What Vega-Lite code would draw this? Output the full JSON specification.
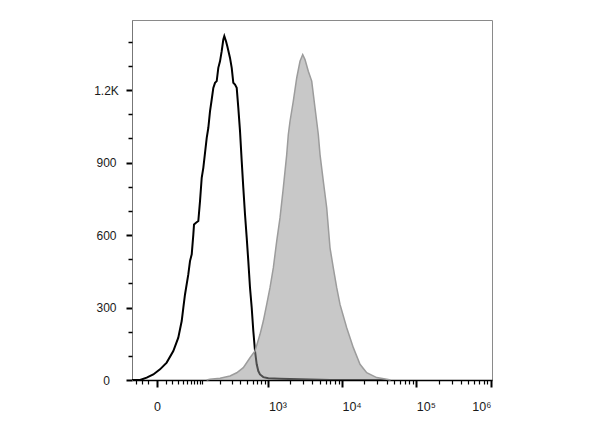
{
  "$schema": "https://vega.github.io/schema/vega-lite/v6.json",
  "width": 360,
  "height": 360,
  "autosize": {"type": "none"},
  "padding": {"left": 132, "top": 20, "right": 108, "bottom": 47},
  "background": "white",
  "config": {
    "view": {"stroke": "#8a8a8a", "strokeWidth": 1},
    "axis": {"grid": false, "labelFont": "Liberation Sans", "labelColor": "#1a1a1a"}
  },
  "datasets": {
    "black": [
      {"x": -38.5, "count": 0}, {"x": -35.7, "count": 0}, {"x": -22.8, "count": 0}, {"x": -12.4, "count": 9.6},
      {"x": -4.0, "count": 23}, {"x": 3.2, "count": 44}, {"x": 11.5, "count": 72}, {"x": 21.6, "count": 120},
      {"x": 30.7, "count": 175}, {"x": 37.8, "count": 244}, {"x": 41.4, "count": 299}, {"x": 45.4, "count": 354},
      {"x": 53.8, "count": 437}, {"x": 58.5, "count": 492}, {"x": 63.5, "count": 520}, {"x": 68.4, "count": 602},
      {"x": 70.6, "count": 644}, {"x": 77.2, "count": 651}, {"x": 85.3, "count": 658}, {"x": 91.7, "count": 740},
      {"x": 98.4, "count": 837}, {"x": 105.1, "count": 878}, {"x": 120.4, "count": 1002}, {"x": 128.1, "count": 1043},
      {"x": 136.8, "count": 1112}, {"x": 146.0, "count": 1161}, {"x": 155.1, "count": 1209}, {"x": 165.2, "count": 1230},
      {"x": 175.9, "count": 1237}, {"x": 186.5, "count": 1292}, {"x": 198.3, "count": 1319}, {"x": 210.8, "count": 1361},
      {"x": 223.2, "count": 1409}, {"x": 231.3, "count": 1423}, {"x": 245.5, "count": 1402}, {"x": 256.9, "count": 1381},
      {"x": 282.2, "count": 1333}, {"x": 299.2, "count": 1292}, {"x": 316.0, "count": 1230}, {"x": 334.9, "count": 1223},
      {"x": 354.7, "count": 1209}, {"x": 374.4, "count": 1126}, {"x": 396.4, "count": 1030}, {"x": 419.5, "count": 906},
      {"x": 442.5, "count": 795}, {"x": 468.1, "count": 685}, {"x": 495.1, "count": 589}, {"x": 521.9, "count": 492},
      {"x": 551.8, "count": 382}, {"x": 583.4, "count": 299}, {"x": 614.7, "count": 203}, {"x": 649.6, "count": 120},
      {"x": 686.4, "count": 65}, {"x": 722.9, "count": 37}, {"x": 763.7, "count": 23}, {"x": 849.2, "count": 12},
      {"x": 996.7, "count": 7}, {"x": 1445, "count": 5}, {"x": 2710, "count": 3}, {"x": 3704, "count": 2},
      {"x": 6902, "count": 0}, {"x": 40000, "count": 0}
    ],
    "gray": [
      {"x": 120, "count": 0}, {"x": 136.8, "count": 3}, {"x": 198.3, "count": 7}, {"x": 282.2, "count": 16.5},
      {"x": 354.7, "count": 30}, {"x": 442.5, "count": 51}, {"x": 551.8, "count": 92}, {"x": 649.6, "count": 120},
      {"x": 763.7, "count": 189}, {"x": 849.2, "count": 244}, {"x": 947, "count": 313}, {"x": 1052, "count": 382},
      {"x": 1169, "count": 464}, {"x": 1302, "count": 575}, {"x": 1445, "count": 671}, {"x": 1604, "count": 795},
      {"x": 1786, "count": 933}, {"x": 1878, "count": 1016}, {"x": 1981, "count": 1071}, {"x": 2197, "count": 1154},
      {"x": 2444, "count": 1250}, {"x": 2710, "count": 1319}, {"x": 2949, "count": 1347}, {"x": 3169, "count": 1326},
      {"x": 3513, "count": 1278}, {"x": 3906, "count": 1237}, {"x": 4329, "count": 1126}, {"x": 4797, "count": 1016},
      {"x": 5060, "count": 933}, {"x": 5604, "count": 823}, {"x": 6229, "count": 713}, {"x": 6902, "count": 547},
      {"x": 7646, "count": 464}, {"x": 8497, "count": 382}, {"x": 9413, "count": 313}, {"x": 11586, "count": 216},
      {"x": 14220, "count": 134}, {"x": 17497, "count": 65}, {"x": 21526, "count": 30}, {"x": 29334, "count": 10},
      {"x": 39976, "count": 3}, {"x": 45000, "count": 0}
    ]
  },
  "layer": [
    {
      "data": {"name": "black"},
      "mark": {"type": "line", "color": "#000000", "strokeWidth": 2, "clip": true},
      "encoding": {
        "x": {
          "field": "x", "type": "quantitative",
          "scale": {"type": "symlog", "constant": 33, "domain": [-38.5, 1037000], "nice": false, "zero": false},
          "axis": {
            "orient": "bottom", "title": null,
            "values": [0, 1000, 10000, 100000, 1000000],
            "labelExpr": "datum.value == 0 ? '0' : datum.value == 1000 ? '10³' : datum.value == 10000 ? '10⁴' : datum.value == 100000 ? '10⁵' : '10⁶'",
            "tickSize": 7, "tickWidth": 2, "tickColor": "#000000",
            "domainColor": "#000000", "domainWidth": 1.5,
            "labelPadding": 13, "labelFontSize": 12.5,
            "labelAlign": {"condition": [{"test": "datum.value == 0", "value": "center"}, {"test": "datum.value == 1000000", "value": "right"}], "value": "left"},
            "labelFlush": false, "labelOverlap": false
          }
        },
        "y": {
          "field": "count", "type": "quantitative",
          "scale": {"domain": [0, 1490], "nice": false},
          "axis": {
            "orient": "left", "title": null,
            "values": [0, 300, 600, 900, 1200],
            "labelExpr": "datum.value == 1200 ? '1.2K' : datum.label",
            "tickSize": 6, "tickWidth": 2, "tickColor": "#000000",
            "domainColor": "#777777", "domainWidth": 1,
            "labelAlign": "center", "labelPadding": 20, "labelFontSize": 12,
            "labelFlush": false, "labelOverlap": false
          }
        }
      }
    },
    {
      "data": {"name": "gray"},
      "mark": {"type": "area", "color": "#969696", "opacity": 0.52},
      "encoding": {
        "x": {
          "field": "x", "type": "quantitative",
          "axis": {
            "orient": "bottom", "title": null, "labels": false, "domain": false,
            "values": [-30, -20, -10, 10, 20, 30, 40, 50, 60, 70, 80, 90, 100, 200, 300, 400, 500, 600, 700, 800, 900,
              2000, 3000, 4000, 5000, 6000, 7000, 8000, 9000,
              20000, 30000, 40000, 50000, 60000, 70000, 80000, 90000,
              200000, 300000, 400000, 500000, 600000, 700000, 800000, 900000],
            "tickSize": 4, "tickWidth": 1.2, "tickColor": "#000000"
          }
        },
        "y": {
          "field": "count", "type": "quantitative",
          "axis": {
            "orient": "left", "title": null, "labels": false, "domain": false,
            "values": [100, 200, 400, 500, 700, 800, 1000, 1100, 1300, 1400],
            "tickSize": 4, "tickWidth": 1.5, "tickColor": "#000000"
          }
        }
      }
    },
    {
      "data": {"name": "gray"},
      "mark": {"type": "line", "color": "#9c9c9c", "strokeWidth": 1.5},
      "encoding": {
        "x": {"field": "x", "type": "quantitative", "axis": null},
        "y": {"field": "count", "type": "quantitative", "axis": null}
      }
    }
  ],
  "resolve": {"axis": {"x": "independent", "y": "independent"}}
}
